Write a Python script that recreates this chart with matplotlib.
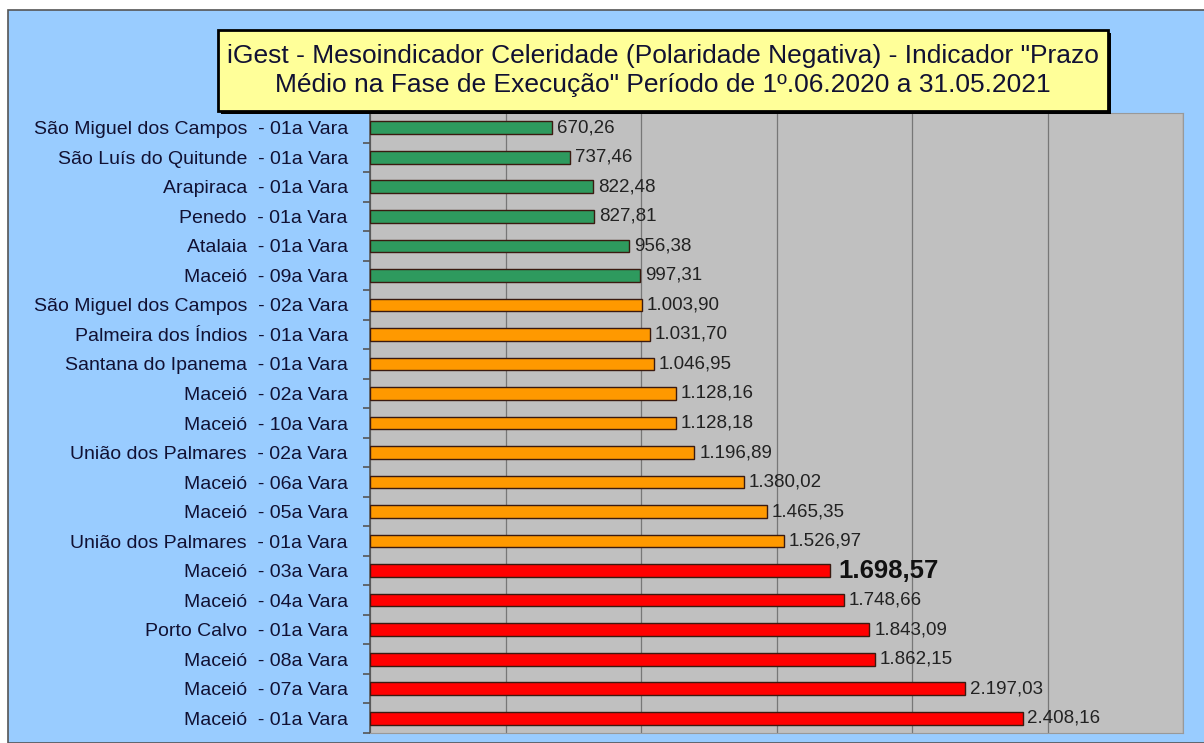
import numpy as np
import matplotlib.pyplot as plt
from matplotlib.patches import Rectangle

plt.rcParams['font.family'] = ['Liberation Sans', 'DejaVu Sans']

# dados (de cima para baixo)
varas = ["São Miguel dos Campos  - 01a Vara", "São Luís do Quitunde  - 01a Vara",
         "Arapiraca  - 01a Vara", "Penedo  - 01a Vara", "Atalaia  - 01a Vara",
         "Maceió  - 09a Vara", "São Miguel dos Campos  - 02a Vara",
         "Palmeira dos Índios  - 01a Vara", "Santana do Ipanema  - 01a Vara",
         "Maceió  - 02a Vara", "Maceió  - 10a Vara", "União dos Palmares  - 02a Vara",
         "Maceió  - 06a Vara", "Maceió  - 05a Vara", "União dos Palmares  - 01a Vara",
         "Maceió  - 03a Vara", "Maceió  - 04a Vara", "Porto Calvo  - 01a Vara",
         "Maceió  - 08a Vara", "Maceió  - 07a Vara", "Maceió  - 01a Vara"]
prazos = [670.26, 737.46, 822.48, 827.81, 956.38, 997.31, 1003.90, 1031.70, 1046.95,
          1128.16, 1128.18, 1196.89, 1380.02, 1465.35, 1526.97, 1698.57, 1748.66,
          1843.09, 1862.15, 2197.03, 2408.16]
grupos = ["verde"] * 6 + ["laranja"] * 9 + ["vermelho"] * 6
destaque = "Maceió  - 03a Vara"

cores = {"verde": "#2E9A5E", "laranja": "#FF9900", "vermelho": "#FF0000"}

titulo = 'iGest - Mesoindicador Celeridade (Polaridade Negativa) - Indicador "Prazo\nMédio na Fase de Execução" Período de 1º.06.2020 a 31.05.2021'


def fmt_br(v):
    s = f"{v:,.2f}"
    return s.replace(",", "X").replace(".", ",").replace("X", ".")


fig = plt.figure(figsize=(12.04, 7.43), dpi=100)
fig.patch.set_facecolor("white")

# painel azul de fundo
W, H = 1204, 743
fig.patches.append(Rectangle((8 / W, 0), 1.0, 1 - 10 / H, transform=fig.transFigure,
                             facecolor="#99CCFF", edgecolor="#555555", linewidth=1.2, zorder=-1))

ax = fig.add_axes([370 / W, 1 - 733 / H, (1183 - 370) / W, (733 - 113) / H])
ax.set_zorder(1)
ax.set_facecolor("#C0C0C0")

y = np.arange(len(varas))
ax.barh(y, prazos, height=0.43, color=[cores[g] for g in grupos],
        edgecolor="#3a1a10", linewidth=1.0, zorder=3)

for yi, v, nome in zip(y, prazos, varas):
    if nome == destaque:
        ax.text(v + 28, yi, fmt_br(v), va="center", ha="left", fontsize=18.5,
                fontweight="bold", color="#111111", zorder=4)
    else:
        ax.text(v + 18, yi, fmt_br(v), va="center", ha="left", fontsize=13.5,
                color="#222222", zorder=4)

ax.set_xlim(0, 3000)
ax.set_ylim(len(varas) - 0.5, -0.5)
ax.set_xticks(np.arange(0, 3001, 500))
ax.xaxis.grid(True, color="#777777", linewidth=0.9)
ax.set_axisbelow(True)
ax.tick_params(axis="x", bottom=False, labelbottom=False)

ax.set_yticks(y)
ax.set_yticklabels(varas, fontsize=14, color="#111133")
ax.set_yticks(np.arange(-0.5, len(varas), 1.0), minor=True)
ax.tick_params(axis="y", which="major", length=0, pad=16)
ax.tick_params(axis="y", which="minor", length=5, color="#555555", width=1.2)

for s in ["top", "right", "bottom"]:
    ax.spines[s].set_color("#999999")
ax.spines["left"].set_color("#555555")
ax.spines["left"].set_linewidth(1.2)

# caixa do título com sombra
bx0, by0, bx1, by1 = 218 / W, 1 - 111 / H, 1108 / W, 1 - 30 / H
fig.patches.append(Rectangle((bx0 + 3 / W, by0 - 3 / H), bx1 - bx0, by1 - by0,
                             transform=fig.transFigure, facecolor="black",
                             edgecolor="none", zorder=5))
fig.patches.append(Rectangle((bx0, by0), bx1 - bx0, by1 - by0, transform=fig.transFigure,
                             facecolor="#FFFF99", edgecolor="black", linewidth=2, zorder=6))
fig.text((bx0 + bx1) / 2, (by0 + by1) / 2, titulo, ha="center", va="center",
         fontsize=19, color="#111133", linespacing=1.25, zorder=7)

fig.savefig("out.png", dpi=100)
